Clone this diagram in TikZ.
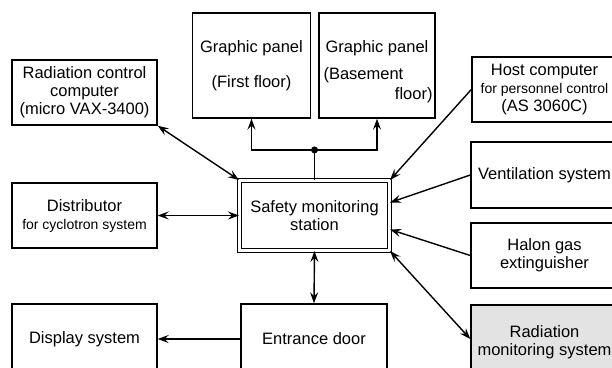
\documentclass[tikz,border=0pt]{standalone}
\usepackage{fontspec}
\setmainfont{Liberation Sans}
\usetikzlibrary{arrows.meta}
\newcommand{\mainsz}{\fontsize{16.5}{18}\selectfont}
\newcommand{\smallsz}{\fontsize{14}{16}\selectfont}
\begin{document}
\begin{tikzpicture}[x=1pt, y=-1pt, >={Stealth[length=11pt,width=8pt,inset=4pt]},
    box/.style={draw, line width=1.4pt, align=center, font=\mainsz, inner sep=0pt},
    link/.style={line width=1.4pt}]
    \useasboundingbox (0,0) rectangle (612,367);
    \clip (0,0) rectangle (612,367);

    % left column
    \node[box, minimum width=145pt, minimum height=65pt] (rcc) at (84.5,92.5) {Radiation control\\computer\\(micro VAX-3400)};
    \node[box, minimum width=145pt, minimum height=65pt] (dist) at (84.5,215.5) {Distributor\\{\smallsz for cyclotron system}};
    \node[box, minimum width=145pt, minimum height=70pt] (disp) at (84.5,339) {Display system};

    % middle column
    \node[box, minimum width=118pt, minimum height=105pt] (gp1) at (251.5,65.5) {Graphic panel\\[17pt](First floor)};
    \node[box, minimum width=116pt, minimum height=105pt] (gp2) at (377,65.5) {};
    \node[font=\mainsz, anchor=base] (gp2a) at ([yshift=-40pt]gp2.north) {Graphic panel};
    \node[font=\mainsz, anchor=base west, inner sep=0pt] (gp2b) at ([xshift=5pt,yshift=-67pt]gp2.north west) {(Basement};
    \node[font=\mainsz, anchor=base east, inner sep=0pt] (gp2c) at ([xshift=-3pt,yshift=-87pt]gp2.north east) {floor)};
    \node[box, double, double distance=2.5pt, line width=1.1pt, minimum width=150pt, minimum height=70pt] (sms) at (314.5,215.5) {Safety monitoring\\station};
    \node[box, minimum width=146pt, minimum height=70pt] (door) at (314,339) {Entrance door};

    % right column
    \node[box, minimum width=145pt, minimum height=65pt] (host) at (544.5,89.5) {Host computer\\{\smallsz for personnel control}\\(AS 3060C)};
    \node[box, minimum width=147pt, minimum height=66pt] (vent) at (544.5,175) {Ventilation system};
    \node[box, minimum width=147pt, minimum height=65pt] (halon) at (544.5,255.5) {Halon gas\\extinguisher};
    \node[box, fill=gray!22, minimum width=147pt, minimum height=74pt] (radmon) at (544.5,342) {Radiation\\monitoring system};

    % connections
    \coordinate (jn) at ([yshift=30pt]sms.north);
    \draw[link] (sms.north) -- (jn);
    \draw[link,->] (jn) -| (gp1.south);
    \draw[link,->] (jn) -| (gp2.south);
    \fill (jn) circle (3.5pt);

    \draw[link,<->] (rcc.south east) -- (sms.north west);
    \draw[link,<->] (dist.east) -- (sms.west);
    \draw[link,<->] (sms.south) -- (door.north);
    \draw[link,->] (door.west) -- (disp.east);
    \draw[link,->] (host.west) -- (sms.north east);
    \draw[link,->] (vent.west) -- ([yshift=13pt]sms.east);
    \draw[link,->] (halon.west) -- ([yshift=-14pt]sms.east);
    \draw[link,<->] ([yshift=3pt]radmon.west) -- (sms.south east);
\end{tikzpicture}
\end{document}
